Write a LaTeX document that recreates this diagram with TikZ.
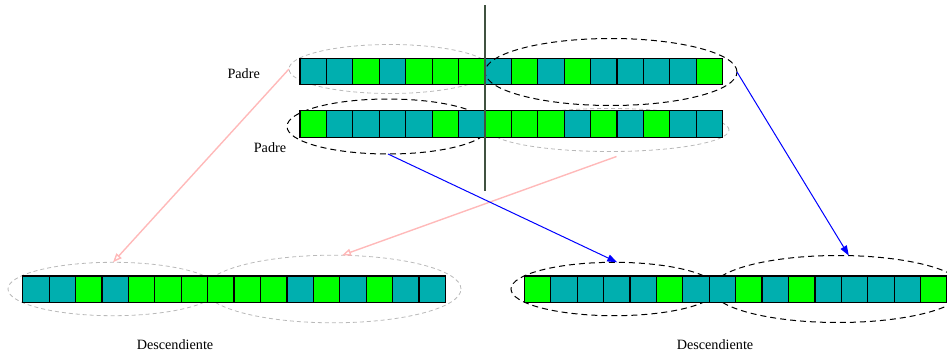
\documentclass[tikz,border=0pt]{standalone}
\usepackage{fontspec}
\setmainfont{Liberation Serif}
\usetikzlibrary{shapes.geometric,arrows.meta}

\definecolor{cT}{RGB}{0,175,175}
\definecolor{cG}{RGB}{0,255,0}
\definecolor{cutline}{RGB}{64,82,64}
\definecolor{pinkline}{RGB}{255,185,185}
\definecolor{ringgray}{RGB}{185,185,185}

\tikzset{
  cell/.style={draw=black, line width=1.2pt, minimum width=26.42pt, minimum height=26.4pt,
               inner sep=0pt, outer sep=0pt, anchor=north west},
  ring/.style={ellipse, inner sep=0pt, outer sep=0pt},
  ringA/.style={ring, draw=black, line width=1pt, dash pattern=on 6pt off 4pt},
  ringB/.style={ring, draw=ringgray, line width=0.8pt, dash pattern=on 4pt off 3pt},
  lbl/.style={font=\fontsize{14.2}{17}\selectfont, anchor=base, inner sep=0pt},
  cross/.style={draw=pinkline, line width=1.4pt, -{Triangle[open, length=9pt, width=7pt]}},
  pass/.style={draw=blue, line width=1pt, -{Triangle[length=10pt, width=7pt]}},
  cut/.style={draw=cutline, line width=1.3pt},
}

% one chromosome: name, left x, top y, list of cell colours
\newcommand\genome[4]{%
  \foreach \c [count=\i from 0] in {#4} {
    \node[cell, fill=\c] (#1-\i) at ({#2+\i*26.42}, #3) {};
  }%
}

\begin{document}
\begin{tikzpicture}[x=1pt, y=-1pt]
  \useasboundingbox (0,0) rectangle (947,351);
  \clip (0,0) rectangle (947,351);

  % segment rings lying behind the chromosomes
  \node[ringB, minimum width=202pt, minimum height=49pt] (pal) at (390,69) {};
  \node[ringA, minimum width=202pt, minimum height=55pt] (pbl) at (388,126.5) {};
  \node[ringB, minimum width=239pt, minimum height=43pt] (pbr) at (609.5,130) {};
  \node[ringB, minimum width=210pt, minimum height=53.4pt] (cal) at (113,289) {};
  \node[ringB, minimum width=256pt, minimum height=67.6pt] (car) at (333,289) {};
  \node[ringA, minimum width=206pt, minimum height=53.4pt] (cbl) at (614,289) {};
  \node[ringA, minimum width=252pt, minimum height=67pt] (cbr) at (838,289) {};

  % parents
  \genome{pa}{300}{58.3}{cT,cT,cG,cT,cG,cG,cG,cT,cG,cT,cG,cT,cT,cT,cT,cG}
  \genome{pb}{300}{110.7}{cG,cT,cT,cT,cT,cG,cT,cG,cG,cG,cT,cG,cT,cG,cT,cT}
  % offspring
  \genome{ca}{22.7}{276}{cT,cT,cG,cT,cG,cG,cG,cG,cG,cG,cT,cG,cT,cG,cT,cT}
  \genome{cb}{524.3}{276}{cG,cT,cT,cT,cT,cG,cT,cT,cG,cT,cG,cT,cT,cT,cT,cG}

  % ring drawn over the first parent
  \node[ringA, minimum width=252pt, minimum height=67pt] (par) at (611,72) {};

  % crossover point
  \coordinate (cutTop) at (485,5);
  \coordinate (cutBot) at (485,190.7);
  \draw[cut] (cutTop) -- (cutBot);

  % inheritance arrows
  \draw[cross] (pal.west) -- (cal.north);
  \draw[cross] ([shift={(7,5)}]pbr.south) -- (car.75);
  \draw[pass] (pbl.south) -- (cbl.83);
  \draw[pass] (par.east) -- (cbr.72);

  % labels
  \node[lbl] (lpa) at (243.7,78.5) {Padre};
  \node[lbl] (lpb) at (270,152.8) {Padre};
  \node[lbl] (lca) at (175,349.5) {Descendiente};
  \node[lbl] (lcb) at (715,349.5) {Descendiente};
\end{tikzpicture}
\end{document}
